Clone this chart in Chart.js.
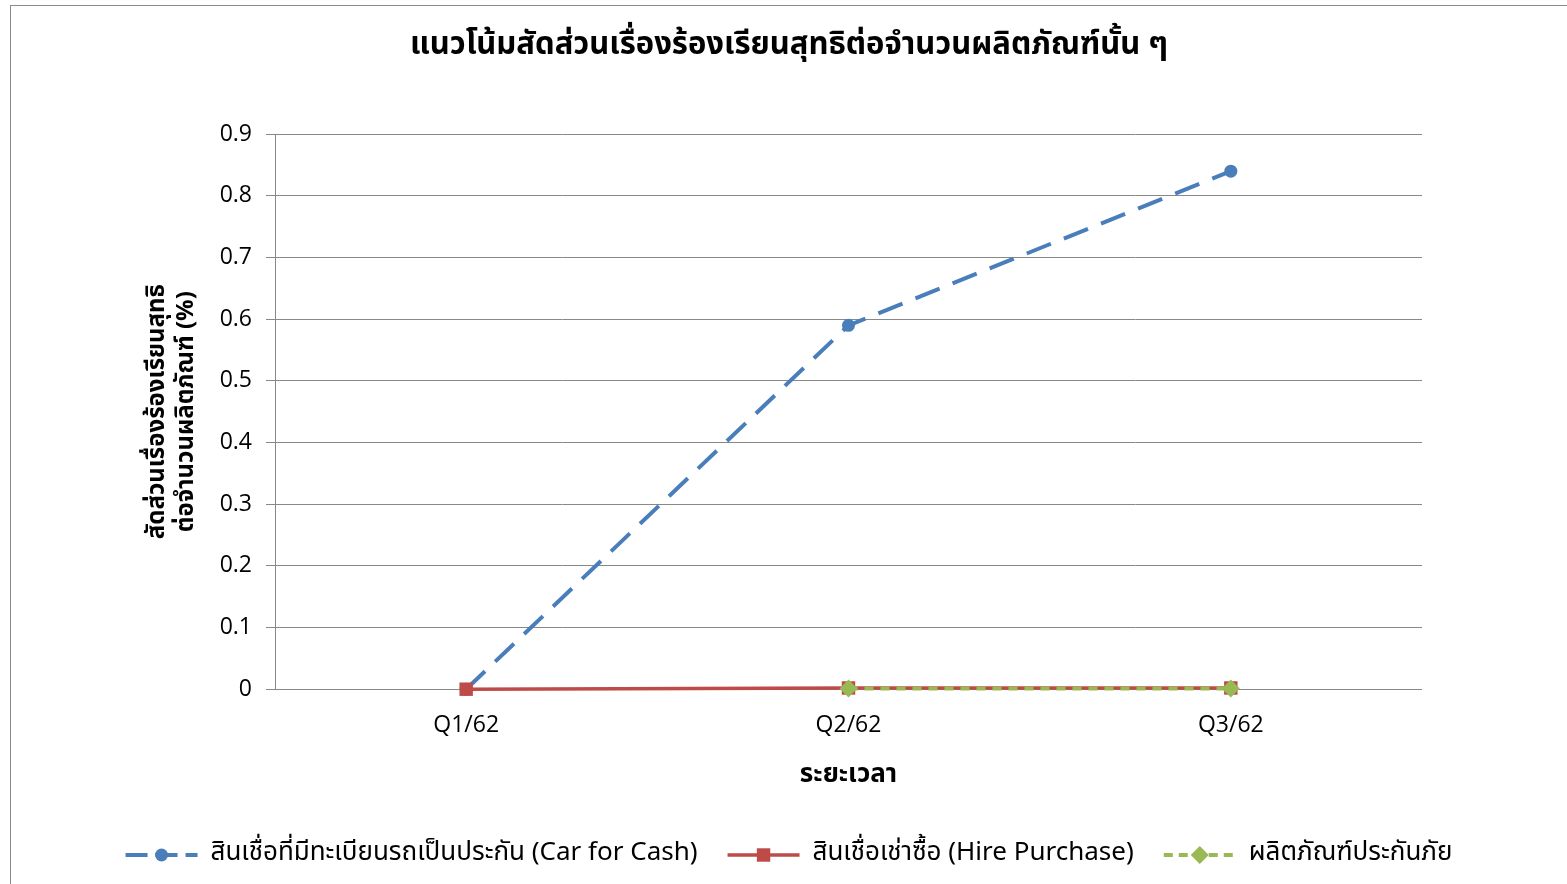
<!DOCTYPE html>
<html>
<head>
<meta charset="utf-8">
<script src="https://cdn.jsdelivr.net/npm/chart.js@4.4.1/dist/chart.umd.min.js"></script>
<style>
  html, body { margin: 0; padding: 0; background: #fff; }
  #frame { position: absolute; left: 10px; top: 5px; width: 1600px; height: 900px; border: 1px solid #8c8c8c; }
  #wrap { position: absolute; left: 0; top: 0; width: 1556px; height: 878px; }
</style>
</head>
<body>
<div id="frame"><div id="wrap"><canvas id="chart"></canvas></div></div>
<script>
const quarters = ['Q1/62', 'Q2/62', 'Q3/62'];
const carForCash = [0, 0.59, 0.84];
const hirePurchase = [0, 0.002, 0.002];
const insurance = [null, 0.001, 0.001];
const yTicks = [0, 0.1, 0.2, 0.3, 0.4, 0.5, 0.6, 0.7, 0.8, 0.9];

const thaiFont = "'Noto Sans Thai', 'Noto Sans', 'Liberation Sans', sans-serif";
const numFont = "'Open Sans', 'Liberation Sans', sans-serif";
const ctx = document.getElementById('chart');

// วาดเส้น+มาร์กเกอร์แทนกล่องสีใน legend
const legendMarks = {
    id: 'legendMarks',
    afterDraw(chart) {
        const lg = chart.legend;
        if (!lg || !lg.legendHitBoxes) return;
        const c = chart.ctx;
        lg.legendItems.forEach((item, i) => {
            const box = lg.legendHitBoxes[i];
            const ds = chart.data.datasets[item.datasetIndex];
            const y = box.top + box.height / 2;
            const x0 = box.left, x1 = box.left + lg.options.labels.boxWidth;
            c.save();
            c.strokeStyle = ds.borderColor;
            c.lineWidth = ds.borderWidth;
            c.setLineDash(ds.legendDash || []);
            c.beginPath(); c.moveTo(x0, y); c.lineTo(x1, y); c.stroke();
            c.setLineDash([]);
            c.fillStyle = ds.backgroundColor;
            Chart.helpers.drawPoint(c, {
                pointStyle: ds.pointStyle, radius: ds.pointRadius, rotation: 0, borderWidth: 0
            }, (x0 + x1) / 2, y);
            c.restore();
        });
    }
};

new Chart(ctx, {
    type: 'line',
    data: {
        labels: quarters,
        datasets: [{
            label: 'สินเชื่อที่มีทะเบียนรถเป็นประกัน (Car for Cash)',
            data: carForCash,
            borderColor: '#4A7EBB',
            backgroundColor: '#4A7EBB',
            borderWidth: 4,
            borderDash: [26, 14],
            legendDash: [22, 8],
            pointStyle: 'circle',
            pointRadius: 6.5,
            pointBorderWidth: 0,
            clip: false,
            order: 2
        }, {
            label: 'สินเชื่อเช่าซื้อ (Hire Purchase)',
            data: hirePurchase,
            borderColor: '#BE4B48',
            backgroundColor: '#BE4B48',
            borderWidth: 3.5,
            pointStyle: 'rect',
            pointRadius: 9.5,
            pointBorderWidth: 0,
            clip: false,
            order: 1
        }, {
            label: 'ผลิตภัณฑ์ประกันภัย',
            data: insurance,
            borderColor: '#98B954',
            backgroundColor: '#98B954',
            borderWidth: 4,
            borderDash: [9, 7],
            legendDash: [9, 6],
            pointStyle: 'rectRot',
            pointRadius: 9,
            pointBorderWidth: 0,
            clip: false,
            order: 0
        }]
    },
    options: {
        responsive: true,
        maintainAspectRatio: false,
        animation: false,
        layout: { padding: { left: 0, right: 0, top: 8, bottom: 6 } },
        plugins: {
            title: {
                display: true,
                text: 'แนวโน้มสัดส่วนเรื่องร้องเรียนสุทธิต่อจำนวนผลิตภัณฑ์นั้น ๆ',
                color: '#000',
                font: { family: thaiFont, size: 31, weight: 'bold' },
                padding: { top: 15, bottom: 68 }
            },
            legend: {
                position: 'bottom',
                labels: {
                    boxWidth: 72,
                    boxHeight: 4,
                    padding: 30,
                    color: '#000',
                    font: { family: thaiFont, size: 26 },
                    sort: (a, b) => a.datasetIndex - b.datasetIndex,
                    generateLabels(chart) {
                        return chart.data.datasets.map((ds, i) => ({
                            text: ds.label,
                            fillStyle: 'rgba(0,0,0,0)',
                            strokeStyle: 'rgba(0,0,0,0)',
                            lineWidth: 0,
                            datasetIndex: i
                        }));
                    }
                }
            },
            tooltip: { enabled: false }
        },
        scales: {
            x: {
                offset: true,
                grid: { display: false, drawTicks: false },
                border: { display: false },
                ticks: { color: '#000', font: { family: numFont, size: 23 }, padding: 22 },
                title: {
                    display: true,
                    text: 'ระยะเวลา',
                    color: '#000',
                    font: { family: thaiFont, size: 26, weight: 'bold' },
                    padding: { top: 0, bottom: 20 }
                }
            },
            y: {
                min: 0,
                max: 0.9,
                afterBuildTicks: axis => { axis.ticks = yTicks.map(v => ({ value: v })); },
                afterFit: axis => { axis.width = 264; },
                grid: { color: '#888', lineWidth: 1, tickLength: 9 },
                border: { display: true, color: '#888' },
                ticks: { color: '#000', font: { family: numFont, size: 23 }, padding: 14 },
                title: {
                    display: true,
                    text: ['สัดส่วนเรื่องร้องเรียนสุทธิ', 'ต่อจำนวนผลิตภัณฑ์ (%)'],
                    color: '#000',
                    font: { family: thaiFont, size: 24, weight: 'bold' },
                    padding: { top: 134, bottom: 0 }
                }
            },
            // แกนว่างด้านขวา เพื่อเว้นที่ให้พื้นที่กราฟเหมือนต้นฉบับ
            yRight: {
                position: 'right',
                display: true,
                afterFit: axis => { axis.width = 145; },
                grid: { display: false, drawTicks: false },
                border: { display: false },
                ticks: { display: false }
            }
        }
    },
    plugins: [legendMarks]
});
</script>
</body>
</html>
